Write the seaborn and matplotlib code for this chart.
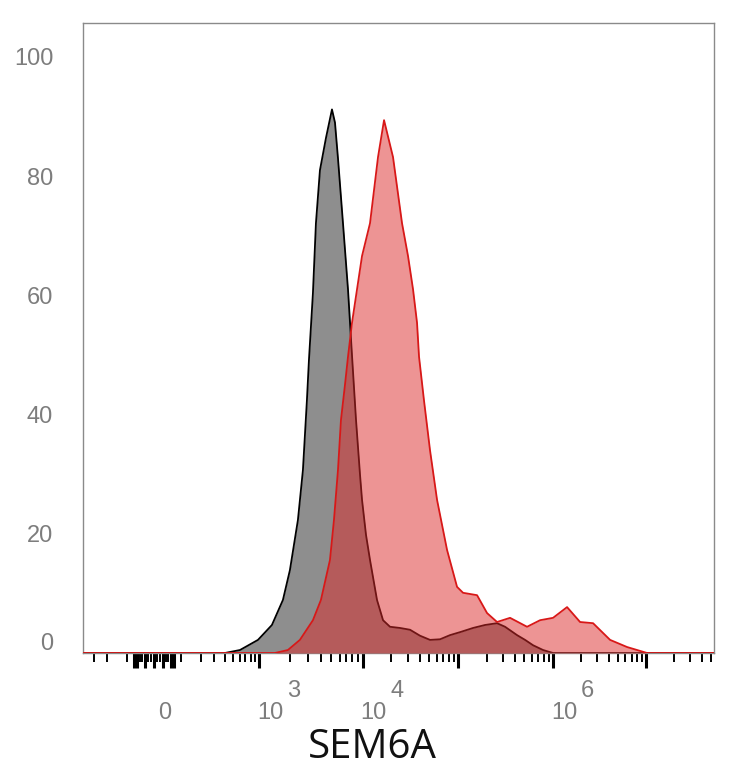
import numpy as np
import matplotlib
matplotlib.use("Agg")
import matplotlib.pyplot as plt
from matplotlib.ticker import FixedLocator
import seaborn as sns

# === Histogram traces (fluorescence value, % of max) ===
iso_x = [-403, 403, 605, 974, 1335, 1706, 1993, 2381, 2662, 2909, 3042, 3325,
         3554, 3885, 4440, 5075, 5425, 5799, 6481, 7244, 7918, 8655, 9459, 9890,
         10880, 11980, 14180, 16400, 19410, 24700, 31430, 40000, 50900, 64800,
         82460, 105000, 143900, 192300, 257300, 312400, 417800, 507500, 616000,
         784800, 1000000, 5.37e7]
iso_y = [0, 0, 0.5, 2.2, 4.7, 8.9, 13.9, 22.3, 30.7, 42.4, 49.1, 60.4,
         72.1, 81.0, 86.4, 91.2, 89.0, 83.0, 72.1, 61.0, 49.9, 39.1, 29.9, 25.7,
         19.8, 15.6, 8.9, 5.5, 4.4, 4.2, 3.9, 2.9, 2.2, 2.3,
         3.0, 3.5, 4.2, 4.7, 5.0, 4.4, 3.0, 2.2, 1.3,
         0.5, 0, 0]

sem_x = [-403, 1427, 1906, 2489, 3325, 3972, 4853, 5304, 5799, 6198, 6775, 7244,
         7918, 8850, 9890, 11980, 14530, 16800, 20860, 25920, 29950, 33800, 37210,
         39050, 44060, 50900, 60280, 76700, 97600, 112900, 158500, 202000, 257300,
         352700, 532400, 729800, 1000000, 1414000, 1951000, 2692000, 4102000,
         6248000, 10250000, 5.37e7]
sem_y = [0, 0, 0.5, 2.2, 5.5, 8.9, 15.6, 22.3, 30.7, 39.1, 45.0, 49.7,
         55.4, 61.0, 66.6, 72.1, 83.2, 89.4, 83.2, 72.1, 66.6, 61.0, 55.4,
         49.7, 42.3, 34.0, 25.7, 17.3, 11.1, 10.1, 9.7, 6.7, 5.2,
         5.9, 4.4, 5.5, 5.9, 7.7, 5.2, 5.0, 2.2,
         1.0, 0, 0]

y_ticks = [0, 20, 40, 60, 80, 100]
x_decades = [0, 1e3, 1e4, 1e5, 1e6, 1e7]
x_labels = [("0", None), ("10", "3"), ("10", "4"), None, ("10", "6"), None]

# === Biexponential-like display axis (arcsinh, pinned to the decade ticks) ===
W = 130.0
U_kn = np.arcsinh(np.array([1e3, 1e4, 1e5, 1e6, 1e7, 1e8]) / W)
P_kn = np.array([105.0, 208.5, 304.0, 399.0, 492.0, 585.0])
U_all = np.concatenate([[-60.0], -U_kn[::-1], [0.0], U_kn, [60.0]])
end_p = P_kn[-1] + (60.0 - U_kn[-1]) * 93.0 / np.log(10)
P_all = np.concatenate([[-end_p], -P_kn[::-1], [0.0], P_kn, [end_p]])


def fwd(v):
    return np.interp(np.arcsinh(np.asarray(v, dtype=float) / W), U_all, P_all)


def inv(p):
    return W * np.sinh(np.interp(np.asarray(p, dtype=float), P_all, U_all))


sns.set_style("white")
plt.rcParams["font.family"] = ["Liberation Sans", "DejaVu Sans"]

fig = plt.figure(figsize=(7.34, 7.68), dpi=100)
ax = fig.add_axes([83 / 734, 1 - 653 / 768, 631 / 734, 630 / 768])
ax.set_xscale("function", functions=(fwd, inv))

# === Plot: isotype first, then SEM6A semi-transparent on top ===
ax.fill_between(iso_x, iso_y, 0, color="#8e8e8e", lw=0, zorder=1)
sns.lineplot(x=iso_x, y=iso_y, ax=ax, color="black", lw=1.3,
             estimator=None, sort=False, zorder=2)
ax.fill_between(sem_x, sem_y, 0, color="#dd2a2a", alpha=0.5, lw=0, zorder=3)
sns.lineplot(x=sem_x, y=sem_y, ax=ax, color="#d81818", lw=1.3,
             estimator=None, sort=False, zorder=4)

ax.set_xlim(-403, 5.37e7)
ax.set_ylim(0, 105.7)

# === Axis styling ===
for sp in ax.spines.values():
    sp.set_color("#8a8a8a")
    sp.set_linewidth(1.0)

# long ticks: decades plus edges of the dense block around zero
major = x_decades + [-70, -60, -30, 30, 60, 70]
minor = [s * v for v in (10, 20, 40, 50) for s in (-1, 1)]
minor += [-100, -200, -300] + list(range(100, 1000, 100))
for d in [1e3, 1e4, 1e5, 1e6]:
    minor += [k * d for k in range(2, 10)]
minor += [2e7, 3e7, 4e7, 5e7]
ax.xaxis.set_major_locator(FixedLocator(major))
ax.xaxis.set_minor_locator(FixedLocator(minor))
ax.tick_params(axis="x", which="major", bottom=True, direction="out", length=11,
               width=2.2, color="black", labelbottom=False)
ax.tick_params(axis="x", which="minor", bottom=True, direction="out", length=6.5,
               width=1.4, color="black")

ax.set_yticks(y_ticks)
ax.tick_params(axis="y", which="both", left=False, length=0, pad=21.5,
               labelsize=17, labelcolor="#7d7d7d")
ylabs = ax.get_yticklabels()
ylabs[0].set_transform(ylabs[0].get_transform() +
                       matplotlib.transforms.ScaledTranslation(0, 11 / 100, fig.dpi_scale_trans))

# x tick labels with full-size exponents
xt = ax.get_xaxis_transform()
for v, lab in zip(x_decades, x_labels):
    if lab is None:
        continue
    base, exp = lab
    dx = 4 if exp is None else -2
    ax.annotate(base, xy=(v, 0), xycoords=xt, xytext=(dx, -66),
                textcoords="offset pixels", ha="left", va="baseline",
                fontsize=17, color="#7d7d7d", annotation_clip=False)
    if exp is not None:
        ax.annotate(exp, xy=(v, 0), xycoords=xt, xytext=(dx + 30, -44),
                    textcoords="offset pixels", ha="left", va="baseline",
                    fontsize=17, color="#7d7d7d", annotation_clip=False)

ax.set_xlabel("SEM6A", fontsize=29, family=["Open Sans", "DejaVu Sans"],
              color="#111111", va="baseline")
ax.xaxis.set_label_coords((372 - 83) / 631, (653 - 758) / 630)
ax.set_ylabel("")

fig.savefig("out.png", dpi=100)
plt.close(fig)
